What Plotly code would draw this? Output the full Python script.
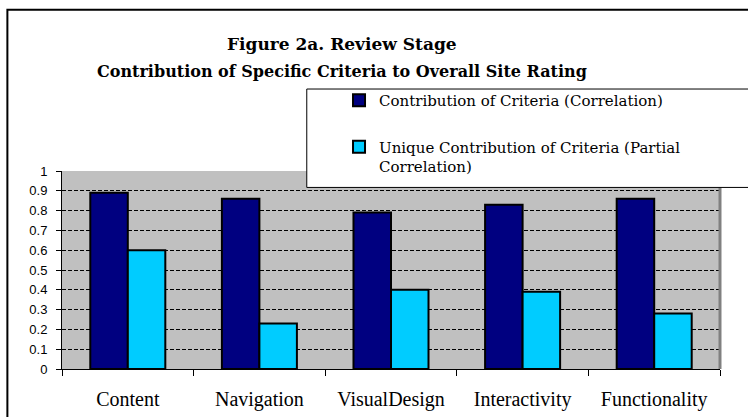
import plotly.graph_objects as go

criteria = ["Content", "Navigation", "VisualDesign", "Interactivity", "Functionality"]
correlation = [0.89, 0.86, 0.79, 0.83, 0.86]
partial_correlation = [0.60, 0.23, 0.40, 0.39, 0.28]

fig = go.Figure()

fig.add_trace(go.Bar(
    x=criteria, y=correlation,
    name="Contribution of Criteria (Correlation)",
    legendgroup="a",
    marker=dict(color="#000080", line=dict(color="black", width=2))
))
fig.add_trace(go.Bar(
    x=criteria, y=partial_correlation,
    name="Unique Contribution of Criteria (Partial<br>Correlation)",
    legendgroup="b",
    marker=dict(color="#00CCFF", line=dict(color="black", width=2))
))

# outer chart frame, legend box and the plot area's right edge
shapes = [
    dict(type="rect", xref="paper", yref="paper", x0=-0.083, x1=1.2, y0=-0.4, y1=1.815,
         line=dict(color="black", width=2), fillcolor="rgba(0,0,0,0)", layer="below"),
    dict(type="line", xref="paper", yref="paper", x0=1, x1=1, y0=0, y1=1,
         line=dict(color="#808080", width=3)),
    dict(type="rect", xref="paper", yref="paper", x0=0.372, x1=1.2, y0=0.917, y1=1.414,
         line=dict(color="black", width=1), fillcolor="white", layer="above"),
]

annotations = [
    dict(text="<b>Figure 2a. Review Stage</b>", xref="paper", yref="paper",
         x=0.4255, y=(369 - 44) / 198, xanchor="center", yanchor="middle", showarrow=False,
         font=dict(family="DejaVu Serif", size=17, color="black")),
    dict(text="<b>Contribution of Specific Criteria to Overall Site Rating</b>", xref="paper", yref="paper",
         x=0.4255, y=(369 - 71) / 198, xanchor="center", yanchor="middle", showarrow=False,
         font=dict(family="DejaVu Serif", size=16, color="black")),
]

fig.update_layout(
    width=748, height=417,
    margin=dict(l=62, r=28, t=171, b=48),
    paper_bgcolor="white",
    plot_bgcolor="#C0C0C0",
    barmode="group",
    bargap=0.43,
    bargroupgap=0,
    showlegend=True,
    legend=dict(
        x=0.421, y=1.439, xanchor="left", yanchor="top",
        bgcolor="rgba(0,0,0,0)", borderwidth=0,
        font=dict(family="DejaVu Serif", size=15, color="black"),
        traceorder="grouped", tracegroupgap=24, valign="top"
    ),
    shapes=shapes,
    annotations=annotations,
)

fig.update_xaxes(
    showgrid=False, automargin=False,
    showline=True, linecolor="black", linewidth=1,
    ticks="outside", tickson="boundaries", ticklen=6, tickcolor="black",
    tickfont=dict(family="Liberation Serif", size=20, color="black"),
    ticklabelstandoff=12,
)
fig.update_yaxes(
    range=[0, 1], dtick=0.1, automargin=False,
    showgrid=True, gridcolor="black", griddash="4px,2px", gridwidth=1,
    showline=True, linecolor="black", linewidth=1,
    ticks="outside", ticklen=5, tickcolor="black",
    tickfont=dict(family="Arial, Liberation Sans", size=13, color="black"),
    ticklabelstandoff=6,
    zeroline=False,
)

fig.write_html("out.html", config=dict(displayModeBar=False),
               post_script="document.body.style.margin='0';")
